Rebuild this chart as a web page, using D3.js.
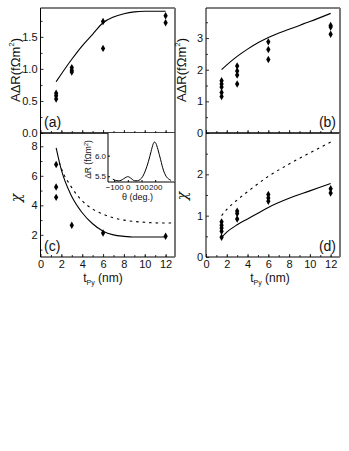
<!DOCTYPE html>
<html>
<head>
<meta charset="utf-8">
<script src="https://cdn.jsdelivr.net/npm/d3@7"></script>
<style>
body { margin: 0; background: #fff; }
text { font-family: "Liberation Sans", Arial, sans-serif; fill: #111; }
</style>
</head>
<body>
<svg id="fig" width="349" height="451"></svg>
<script>
// measured points (t_Py in nm)
const aPtsT = [1.5, 1.5, 1.5, 3, 3, 3, 6, 6, 12, 12];
const aPtsV = [0.62, 0.58, 0.53, 1.02, 0.98, 0.95, 1.74, 1.32, 1.83, 1.72];
const aFitT = [1.5, 2, 3, 4, 5, 6, 7, 8, 9, 10, 12];
const aFitV = [0.80, 0.92, 1.15, 1.36, 1.54, 1.72, 1.81, 1.86, 1.89, 1.9, 1.9];

const bPtsT = [1.5, 1.5, 1.5, 1.5, 1.5, 3, 3, 3, 3, 6, 6, 6, 12, 12, 12];
const bPtsV = [1.65, 1.55, 1.45, 1.28, 1.15, 2.12, 1.96, 1.83, 1.55, 2.88, 2.64, 2.32, 3.4, 3.35, 3.12];
const bFitT = [1.5, 2, 3, 4, 5, 6, 8, 10, 12];
const bFitV = [2.0, 2.15, 2.42, 2.65, 2.85, 3.02, 3.28, 3.52, 3.78];

const cPtsT = [1.5, 1.5, 1.5, 3, 6, 12];
const cPtsV = [6.76, 5.24, 4.54, 2.65, 2.12, 1.9];
const cFitT = [1.5, 2, 3, 4, 5, 6, 7, 8, 9, 12];
const cFitV = [7.9, 6.4, 4.6, 3.5, 2.75, 2.25, 2.0, 1.9, 1.85, 1.85];
const cDashT = [1.8, 2, 3, 4, 5, 6, 7, 8, 10, 12, 12.9];
const cDashV = [6.9, 6.5, 5.2, 4.3, 3.75, 3.4, 3.15, 3.0, 2.85, 2.8, 2.8];

const dPtsT = [1.5, 1.5, 1.5, 1.5, 1.5, 3, 3, 3, 6, 6, 6, 12, 12];
const dPtsV = [0.85, 0.77, 0.7, 0.62, 0.48, 1.11, 1.05, 0.92, 1.51, 1.43, 1.35, 1.65, 1.55];
const dFitT = [1.5, 2, 3, 4, 5, 6, 8, 10, 12];
const dFitV = [0.47, 0.6, 0.78, 0.92, 1.06, 1.2, 1.42, 1.6, 1.78];
const dDashT = [1.5, 2, 3, 4, 6, 8, 10, 12];
const dDashV = [1.0, 1.15, 1.38, 1.58, 1.95, 2.25, 2.52, 2.78];

// inset: angular dependence
const insetTheta = [-110, -90, -70, -50, -30, -10, 0, 10, 30, 50, 70, 90, 110, 130, 150, 170, 185, 195, 205, 220, 240, 260, 280, 300, 315];
const insetDR = [5.43, 5.40, 5.39, 5.40, 5.44, 5.48, 5.49, 5.48, 5.43, 5.39, 5.39, 5.42, 5.5, 5.65, 5.85, 6.1, 6.28, 6.33, 6.3, 6.15, 5.9, 5.65, 5.5, 5.43, 5.40];

const xTicks = [0, 2, 4, 6, 8, 10, 12];
const svg = d3.select('#fig');

const zip = (ts, vs) => ts.map((t, i) => [t, vs[i]]);

function panel(box, yDomain, yTicks, yMinor, yFmt, showXLabels) {
	const x = d3.scaleLinear().domain([0, 12.9]).range([box.x0, box.x1]);
	const y = d3.scaleLinear().domain(yDomain).range([box.y1, box.y0]);
	const g = svg.append('g');

	// minor ticks
	g.append('g').attr('transform', `translate(0,${box.y1})`)
		.call(d3.axisBottom(x).tickValues(d3.range(1, 13, 1)).tickSize(-2).tickFormat(''))
		.call(s => s.select('.domain').remove());
	g.append('g').attr('transform', `translate(${box.x0},0)`)
		.call(d3.axisLeft(y).tickValues(yMinor).tickSize(-2).tickFormat(''))
		.call(s => s.select('.domain').remove());

	const xa = g.append('g').attr('transform', `translate(0,${box.y1})`)
		.call(d3.axisBottom(x).tickValues(xTicks).tickSize(-3).tickPadding(3)
			.tickFormat(showXLabels ? d3.format('d') : ''));
	xa.select('.domain').remove();
	const ya = g.append('g').attr('transform', `translate(${box.x0},0)`)
		.call(d3.axisLeft(y).tickValues(yTicks).tickSize(-3).tickPadding(3).tickFormat(yFmt));
	ya.select('.domain').remove();
	g.selectAll('.tick text').attr('font-size', 11).style('font-family', '"Liberation Sans", Arial, sans-serif').attr('fill', '#222');
	g.selectAll('.tick line').attr('stroke', '#333');

	// frame
	g.append('line').attr('x1', box.x0).attr('x2', box.x0).attr('y1', box.y0).attr('y2', box.y1).attr('stroke', '#000');
	g.append('line').attr('x1', box.x0).attr('x2', box.x1).attr('y1', box.y0).attr('y2', box.y0).attr('stroke', '#000');
	g.append('line').attr('x1', box.x0).attr('x2', box.x1).attr('y1', box.y1).attr('y2', box.y1).attr('stroke', '#000');
	g.append('line').attr('x1', box.x1).attr('x2', box.x1).attr('y1', box.y0).attr('y2', box.y1).attr('stroke', '#777').attr('stroke-width', 2);
	return { g, x, y };
}

function curve(p, ts, vs, dashed) {
	const line = d3.line().x(d => p.x(d[0])).y(d => p.y(d[1])).curve(d3.curveMonotoneX);
	p.g.append('path').attr('d', line(zip(ts, vs)))
		.attr('fill', 'none').attr('stroke', '#000').attr('stroke-width', 1.1)
		.attr('stroke-dasharray', dashed ? '2.5,4' : null);
}

function points(p, ts, vs) {
	const sym = d3.symbol().type(d3.symbolDiamond).size(16);
	p.g.append('g').selectAll('path').data(zip(ts, vs)).enter().append('path')
		.attr('d', sym)
		.attr('transform', d => `translate(${p.x(d[0])},${p.y(d[1])})`)
		.attr('fill', '#000');
}

function label(txt, x, y, anchor) {
	svg.append('text').attr('x', x).attr('y', y).attr('font-size', 14).attr('text-anchor', anchor || 'start').text(txt);
}

function yTitle(x, y, isChi) {
	const t = svg.append('text').attr('transform', `translate(${x},${y}) rotate(-90)`)
		.attr('text-anchor', 'middle').attr('font-size', isChi ? 14 : 13);
	if (isChi) {
		t.attr('font-style', 'italic').style('font-family', '"DejaVu Serif", serif').text('χ');
	} else {
		t.append('tspan').text('AΔR(fΩm');
		t.append('tspan').attr('font-size', 8).attr('dy', -6).text('2');
		t.append('tspan').attr('dy', 6).text(')');
	}
}

function xTitle(x, y) {
	const t = svg.append('text').attr('x', x).attr('y', y).attr('text-anchor', 'middle').attr('font-size', 12);
	t.append('tspan').text('t');
	t.append('tspan').attr('font-size', 7).attr('dy', 3).text('Py');
	t.append('tspan').attr('dy', -3).text(' (nm)');
}

const pa = panel({ x0: 40.5, x1: 175, y0: 8, y1: 133 }, [0, 1.95], [0, 0.5, 1, 1.5], [0.25, 0.75, 1.25, 1.75], d3.format('.1f'), false);
curve(pa, aFitT, aFitV, false);
points(pa, aPtsT, aPtsV);

const pb = panel({ x0: 206, x1: 340, y0: 8, y1: 133 }, [0, 3.95], [0, 1, 2, 3], [0.5, 1.5, 2.5, 3.5], d3.format('d'), false);
curve(pb, bFitT, bFitV, false);
points(pb, bPtsT, bPtsV);

const pc = panel({ x0: 40.5, x1: 175, y0: 133, y1: 257 }, [0.5, 8.9], [2, 4, 6, 8], [1, 3, 5, 7], d3.format('d'), true);
curve(pc, cDashT, cDashV, true);
curve(pc, cFitT, cFitV, false);
points(pc, cPtsT, cPtsV);

const pd = panel({ x0: 206, x1: 340, y0: 133, y1: 257 }, [0, 3], [0, 1, 2], [0.5, 1.5, 2.5], d3.format('d'), true);
curve(pd, dDashT, dDashV, true);
curve(pd, dFitT, dFitV, false);
points(pd, dPtsT, dPtsV);

// inset in (c)
const ib = { x0: 108, x1: 175, y0: 133, y1: 182 };
const ix = d3.scaleLinear().domain([-145, 345]).range([ib.x0, ib.x1]);
const iy = d3.scaleLinear().domain([5.36, 6.55]).range([ib.y1, ib.y0]);
const ig = svg.append('g');
ig.append('rect').attr('x', ib.x0).attr('y', ib.y0).attr('width', ib.x1 - ib.x0).attr('height', ib.y1 - ib.y0).attr('fill', '#fff');
const ixa = ig.append('g').attr('transform', `translate(0,${ib.y1})`)
	.call(d3.axisBottom(ix).tickValues([-100, 0, 100, 200]).tickSize(-2).tickPadding(2).tickFormat(d3.format('d')));
ixa.select('.domain').remove();
const iya = ig.append('g').attr('transform', `translate(${ib.x0},0)`)
	.call(d3.axisLeft(iy).tickValues([5.5, 6.0]).tickSize(-2).tickPadding(2).tickFormat(d3.format('.1f')));
iya.select('.domain').remove();
ig.selectAll('.tick text').attr('font-size', 8).style('font-family', '"Liberation Sans", Arial, sans-serif').attr('fill', '#222');
ig.append('line').attr('x1', ib.x0).attr('x2', ib.x0).attr('y1', ib.y0).attr('y2', ib.y1).attr('stroke', '#000');
ig.append('line').attr('x1', ib.x0).attr('x2', ib.x1).attr('y1', ib.y1).attr('y2', ib.y1).attr('stroke', '#000');
ig.append('line').attr('x1', ib.x1).attr('x2', ib.x1).attr('y1', ib.y0).attr('y2', ib.y1).attr('stroke', '#777').attr('stroke-width', 2);
ig.append('path')
	.attr('d', d3.line().x(d => ix(d[0])).y(d => iy(d[1])).curve(d3.curveMonotoneX)(zip(insetTheta, insetDR)))
	.attr('fill', 'none').attr('stroke', '#000').attr('stroke-width', 1);
{
	const t = ig.append('text').attr('transform', `translate(${ib.x0 - 17},${(ib.y0 + ib.y1) / 2 + 2}) rotate(-90)`)
		.attr('text-anchor', 'middle').attr('font-size', 8.5);
	t.append('tspan').text('ΔR (fΩm');
	t.append('tspan').attr('font-size', 5.5).attr('dy', -3.5).text('2');
	t.append('tspan').attr('dy', 3.5).text(')');
	ig.append('text').attr('x', (ib.x0 + ib.x1) / 2 - 4).attr('y', 200).attr('text-anchor', 'middle').attr('font-size', 9).text('θ (deg.)');
}

yTitle(20, 70, false);
yTitle(186, 70, false);
yTitle(21, 198, true);
yTitle(187, 196, true);
xTitle(103, 282);
xTitle(270, 282);

label('(a)', 44, 127);
label('(b)', 336, 127, 'end');
label('(c)', 44, 251);
label('(d)', 336, 251, 'end');
</script>
</body>
</html>
